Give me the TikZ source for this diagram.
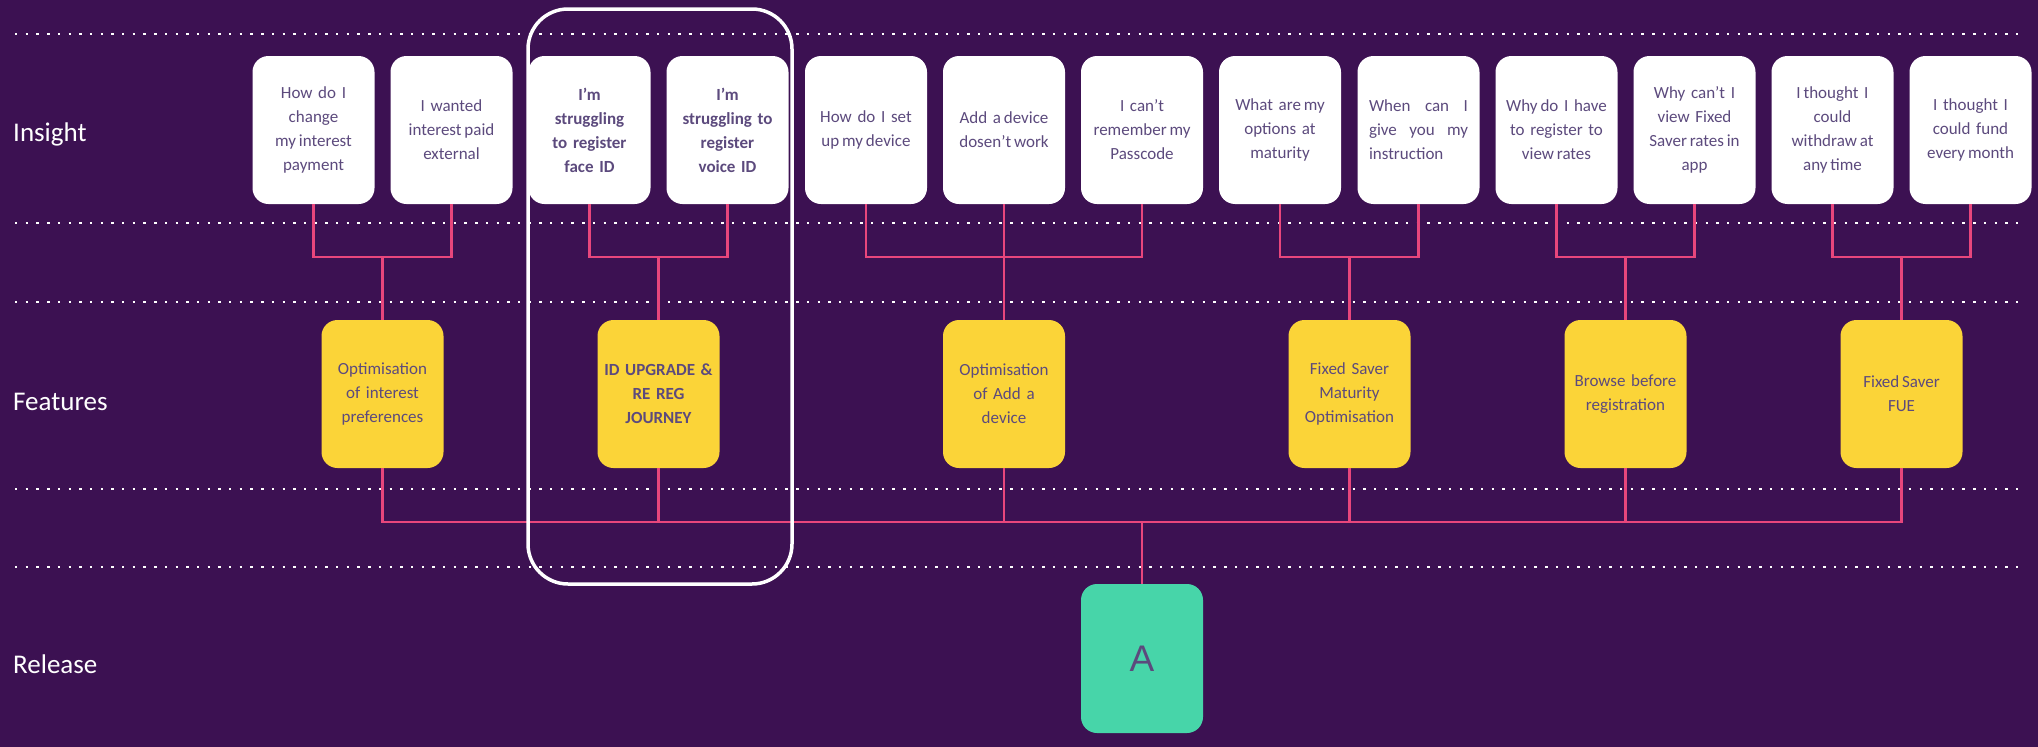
\documentclass[tikz,border=0pt]{standalone}
\usepackage{fontspec}
\setmainfont{Carlito}
\newfontfamily\relfont{Liberation Sans}
\definecolor{bg}{HTML}{3C1152}
\definecolor{ink}{HTML}{5C4A7D}
\definecolor{gold}{HTML}{FBD438}
\definecolor{mint}{HTML}{47D5A9}
\definecolor{pink}{HTML}{E8467C}
\tikzset{
  card/.style={fill=white,rounded corners=16pt,minimum width=122pt,minimum height=148pt,inner sep=0pt,
    text width=118pt,align=center,text=ink,font=\fontsize{17}{24}\selectfont},
  bcard/.style={card,font=\fontsize{17}{24}\selectfont\bfseries},
  feat/.style={card,fill=gold},
  bfeat/.style={bcard,fill=gold},
  rel/.style={card,fill=mint,minimum height=149pt,font=\relfont\fontsize{37}{40}\selectfont},
  link/.style={draw=pink,line width=2.6pt},
  dotrow/.style={draw=white,line width=2.4pt,dash pattern=on 2.4pt off 8.3pt},
  hilite/.style={draw=white,line width=3.5pt,rounded corners=40pt},
  rowlab/.style={anchor=west,text=white,inner sep=0pt,font=\fontsize{27}{30}\selectfont},
}
\begin{document}
\begin{tikzpicture}[x=1pt,y=-1pt]
\fill[bg] (0,0) rectangle (2038,747);
\useasboundingbox (0,0) rectangle (2038,747);

% row separators
\draw[dotrow] (15,34) -- (2026,34);
\draw[dotrow] (15,223) -- (2026,223);
\draw[dotrow] (15,302) -- (2026,302);
\draw[dotrow] (15,489) -- (2026,489);
\draw[dotrow] (15,567) -- (2026,567);

% row labels
\node[rowlab] (lins) at (13,134) {Insight};
\node[rowlab] (lfea) at (13,402) {Features};
\node[rowlab] (lrel) at (13,664) {Release};

% insight cards
\node[card] (i1) at (313.5,130) {How do I\\change\\my\,interest\\payment};
\node[card] (i2) at (451.5,130) {I wanted\\interest\,paid\\external};
\node[bcard] (i3) at (589.5,130) {I’m\\struggling\\to register\\face ID};
\node[bcard] (i4) at (727.5,130) {I’m\\struggling to\\register\\voice ID};
\node[card] (i5) at (866,130) {How do I set\\up\,my\,device};
\node[card] (i6) at (1004,130) {Add a\,device\\dosen’t\,work};
\node[card] (i7) at (1142,130) {I can’t\\remember\,my\\Passcode};
\node[card] (i8) at (1280,130) {What are\,my\\options at\\maturity};
\node[card,text width=99pt,align=left] (i9) at (1418.5,130)
  {\makebox[99pt][s]{When\hfill can\hfill I}\\\makebox[99pt][s]{give\hfill you\hfill my}\\instruction};
\node[card] (i10) at (1556.5,130) {Why\,do I have\\to register to\\view\,rates};
\node[card] (i11) at (1694.5,130) {Why can’t I\\view Fixed\\Saver\,rates\,in\\app};
\node[card] (i12) at (1832.5,130) {I\,thought I\\could\\withdraw\,at\\any\,time};
\node[card] (i13) at (1970.5,130) {I thought I\\could fund\\every\,month};

% feature cards
\node[feat] (f1) at (382.5,394) {Optimisation\\of interest\\preferences};
\node[bfeat] (f2) at (658.5,394) {ID UPGRADE \&\\RE REG\\JOURNEY};
\node[feat] (f3) at (1004,394) {Optimisation\\of Add a\\device};
\node[feat] (f4) at (1349.5,394) {Fixed Saver\\Maturity\\Optimisation};
\node[feat] (f5) at (1625.5,394) {Browse before\\registration};
\node[feat] (f6) at (1901.5,394) {Fixed\,Saver\\FUE};

% release
\node[rel] (rA) at (1142,658.5) {A};

% connectors
\coordinate (topbus) at (0,257);
\coordinate (lowbus) at (0,522);
\draw[link] (i1.south) -- (i1.south |- topbus) -- (i2.south |- topbus) -- (i2.south);
\draw[link] (f1.north) -- (f1.north |- topbus);
\draw[link] (i3.south) -- (i3.south |- topbus) -- (i4.south |- topbus) -- (i4.south);
\draw[link] (f2.north) -- (f2.north |- topbus);
\draw[link] (i5.south) -- (i5.south |- topbus) -- (i7.south |- topbus) -- (i7.south);
\draw[link] (i6.south) -- (f3.north);
\draw[link] (i8.south) -- (i8.south |- topbus) -- (i9.south |- topbus) -- (i9.south);
\draw[link] (f4.north) -- (f4.north |- topbus);
\draw[link] (i10.south) -- (i10.south |- topbus) -- (i11.south |- topbus) -- (i11.south);
\draw[link] (f5.north) -- (f5.north |- topbus);
\draw[link] (i12.south) -- (i12.south |- topbus) -- (i13.south |- topbus) -- (i13.south);
\draw[link] (f6.north) -- (f6.north |- topbus);

\draw[link] (f1.south) -- (f1.south |- lowbus) -- (f6.south |- lowbus) -- (f6.south);
\draw[link] (f2.south) -- (f2.south |- lowbus);
\draw[link] (f3.south) -- (f3.south |- lowbus);
\draw[link] (f4.south) -- (f4.south |- lowbus);
\draw[link] (f5.south) -- (f5.south |- lowbus);
\draw[link] (rA.north) -- (rA.north |- lowbus);

% highlighted group
\draw[hilite] (528,9) rectangle (792,584);
\end{tikzpicture}
\end{document}
